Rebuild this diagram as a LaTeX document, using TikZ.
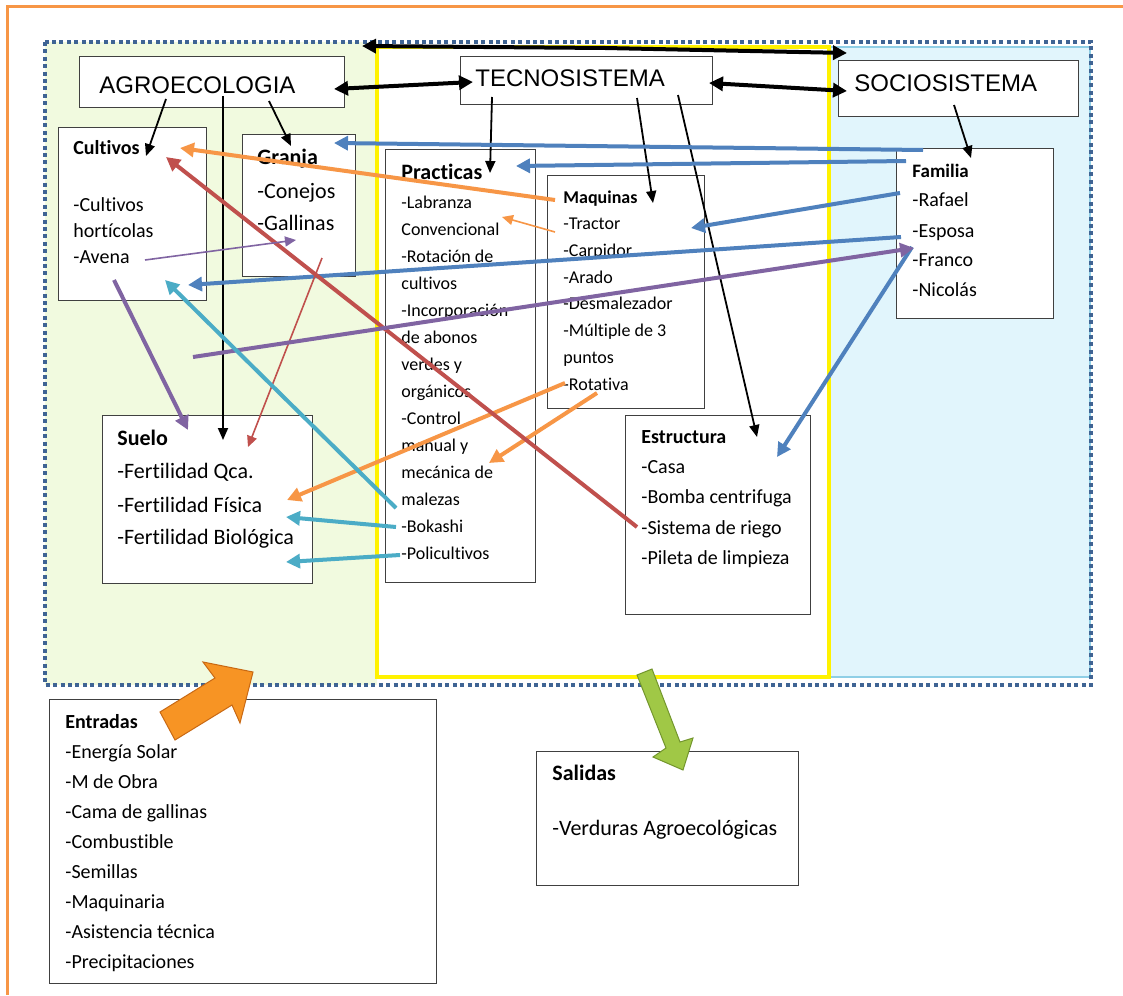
\documentclass[tikz,border=0pt]{standalone}
\usepackage{fontspec}
\setmainfont[Ligatures=NoCommon]{Carlito}
\newfontfamily\arialf{Liberation Sans}
\usetikzlibrary{arrows.meta}

\definecolor{ofBlue}{HTML}{4F81BD}
\definecolor{ofOrange}{HTML}{F79646}
\definecolor{ofRed}{HTML}{C0504D}
\definecolor{ofPurple}{HTML}{8064A2}
\definecolor{ofCyan}{HTML}{4BACC6}
\definecolor{agroGreen}{HTML}{F1FADF}
\definecolor{socioBlue}{HTML}{E1F5FC}
\definecolor{socioLine}{HTML}{8FCFE6}
\definecolor{frameBlue}{HTML}{3F6494}

\tikzset{
  box/.style={draw=black!75, line width=0.6pt, fill=white, anchor=north west, inner sep=0},
  txt/.style={anchor=west, inner sep=0, text depth=0pt},
  t9/.style={txt, font=\fontsize{9}{11}\selectfont, text height=6.1pt},
  t10/.style={txt, font=\fontsize{10}{12}\selectfont, text height=6.8pt},
  t11/.style={txt, font=\fontsize{11}{13}\selectfont, text height=7.5pt},
  b9/.style={t9, font=\fontsize{9}{11}\selectfont\bfseries},
  b10/.style={t10, font=\fontsize{10}{12}\selectfont\bfseries},
  b11/.style={t11, font=\fontsize{11}{13}\selectfont\bfseries},
  sys/.style={txt, font=\fontsize{12}{14}\selectfont\arialf, text height=8.6pt},
  thin/.style={line width=0.9pt, -{Triangle[length=6pt,width=5pt]}},
  dbl/.style={line width=2pt, {Triangle[length=7pt,width=7pt]}-{Triangle[length=7pt,width=7pt]}},
  col/.style={line width=2pt, draw=#1, -{Triangle[length=7pt,width=7pt]}},
  fine/.style={line width=0.8pt, draw=#1, -{Triangle[length=5.5pt,width=5pt]}}
}

\begin{document}
\begin{tikzpicture}[x=0.5pt, y=-0.5pt]
\useasboundingbox (0,0) rectangle (1123,995);

% zonas
\fill[agroGreen] (45,42) rectangle (377,685);
\fill[socioBlue] (829,47) rectangle (1090,677);
\draw[socioLine, line width=0.8pt] (829,47) rectangle (1090,677);
\draw[yellow, line width=2pt, fill=white] (377,47) rectangle (829,677);
\draw[frameBlue, line width=2pt, dash pattern=on 2pt off 1.7pt] (45,42) rectangle (1091,685);
\draw[ofOrange, line width=1.5pt] (1123,7) -- (7,7) -- (7,995);

% cajas
\node[box, minimum width=132.5pt, minimum height=25.5pt] (agro) at (79,56) {};
\node[box, minimum width=126pt, minimum height=24pt] (tecno) at (460,56) {};
\node[box, minimum width=120pt, minimum height=28pt] (socio) at (838,60) {};
\node[box, minimum width=74pt, minimum height=86.5pt] (cultivos) at (58,127) {};
\node[box, minimum width=56.5pt, minimum height=71pt] (granja) at (242,134) {};
\node[box, minimum width=75pt, minimum height=216.5pt] (practicas) at (385,149) {};
\node[box, minimum width=78.5pt, minimum height=116.5pt] (maquinas) at (547,175) {};
\node[box, minimum width=92.5pt, minimum height=99.5pt] (estructura) at (625,415) {};
\node[box, minimum width=78.5pt, minimum height=85pt] (familia) at (896,148) {};
\node[box, minimum width=105pt, minimum height=84pt] (suelo) at (102,415) {};
\node[box, minimum width=193.5pt, minimum height=142pt] (entradas) at (49,699) {};
\node[box, minimum width=131pt, minimum height=67pt] (salidas) at (536,751) {};

% titulos
\node[sys] (agroT) at (99,85) {AGROECOLOGIA};
\node[sys] (tecnoT) at (475,78) {TECNOSISTEMA};
\node[sys] (socioT) at (854,83) {SOCIOSISTEMA};

% cultivos
\node[b10] (cultT) at (73,148) {Cultivos};
\node[t10] (cult1) at (73,205) {-Cultivos};
\node[t10] (cult2) at (73,231) {hortícolas};
\node[t10] (avena) at (73,257) {-Avena};

% granja
\node[b11] (granjaT) at (257,157) {Granja};
\node[t11] (conejos) at (257,191) {-Conejos};
\node[t11] (gallinas) at (257,223) {-Gallinas};

% practicas
\node[b11] (pracT) at (401,172) {Practicas};
\node[t9] (prac1) at (401,202) {-Labranza};
\node[t9] (prac2) at (401,229) {Convencional};
\node[t9] (prac3) at (401,256) {-Rotación de};
\node[t9] (prac4) at (401,283) {cultivos};
\node[t9] (prac5) at (401,310) {-Incorporación};
\node[t9] (prac6) at (401,337) {de abonos};
\node[t9] (prac7) at (401,364) {verdes y};
\node[t9] (prac8) at (401,391) {orgánicos};
\node[t9] (prac9) at (401,418) {-Control};
\node[t9] (prac10) at (401,445) {manual y};
\node[t9] (prac11) at (401,472) {mecánica de};
\node[t9] (prac12) at (401,499) {malezas};
\node[t9] (bokashi) at (401,526) {-Bokashi};
\node[t9] (policult) at (401,553) {-Policultivos};

% maquinas
\node[b9] (maqT) at (563,197) {Maquinas};
\node[t9] (maq1) at (563,223) {-Tractor};
\node[t9] (maq2) at (563,250) {-Carpidor};
\node[t9] (maq3) at (563,277) {-Arado};
\node[t9] (maq4) at (563,303) {-Desmalezador};
\node[t9] (maq5) at (563,330) {-Múltiple de 3};
\node[t9] (maq6) at (563,357) {puntos};
\node[t9] (rotativa) at (563,384) {-Rotativa};

% estructura
\node[b10] (estT) at (641,437) {Estructura};
\node[t10] (est1) at (641,467) {-Casa};
\node[t10] (est2) at (641,497) {-Bomba centrifuga};
\node[t10] (riego) at (641,528) {-Sistema de riego};
\node[t10] (est4) at (641,558) {-Pileta de limpieza};

% familia
\node[t10, font=\fontsize{9.5}{11}\selectfont\bfseries] (famT) at (912,171) {Familia};
\node[t10] (rafael) at (912,200) {-Rafael};
\node[t10] (esposa) at (912,231) {-Esposa};
\node[t10] (franco) at (912,260) {-Franco};
\node[t10] (nicolas) at (912,290) {-Nicolás};

% suelo
\node[b11] (sueloT) at (117,438) {Suelo};
\node[t11] (suelo1) at (117,471) {-Fertilidad Qca.};
\node[t11] (suelo2) at (117,505) {-Fertilidad Física};
\node[t11] (suelo3) at (117,537) {-Fertilidad Biológica};

% entradas
\node[b10] (entT) at (65,722) {Entradas};
\node[t10] (ent1) at (65,752) {-Energía Solar};
\node[t10] (ent2) at (65,782) {-M de Obra};
\node[t10] (ent3) at (65,812) {-Cama de gallinas};
\node[t10] (ent4) at (65,842) {-Combustible};
\node[t10] (ent5) at (65,872) {-Semillas};
\node[t10] (ent6) at (65,902) {-Maquinaria};
\node[t10] (ent7) at (65,932) {-Asistencia técnica};
\node[t10] (ent8) at (65,962) {-Precipitaciones};

% salidas
\node[b11] (salT) at (552,773) {Salidas};
\node[t11] (sal1) at (552,828) {-Verduras Agroecológicas};

% puntas de flechas
\coordinate (topM) at (605,48);   \coordinate (topL) at (362,46);  \coordinate (topR) at (847,53);
\coordinate (agroR) at (334,89);  \coordinate (tecL) at (473,82);
\coordinate (tecR) at (709,83);   \coordinate (socL) at (847,91);
\coordinate (agroA) at (166,99);  \coordinate (cultA) at (146,156);
\coordinate (agroB) at (269,101); \coordinate (granjaA) at (291,146);
\coordinate (agroC) at (223,96);  \coordinate (sueloA) at (223,440);
\coordinate (tecA) at (492,97);   \coordinate (pracA) at (490,173);
\coordinate (tecB) at (637,98);   \coordinate (maqA) at (653,203);
\coordinate (tecC) at (678,95);   \coordinate (estA) at (757,437);
\coordinate (socA) at (954,105);  \coordinate (famA) at (971,158);
\coordinate (famB) at (923,150);  \coordinate (granjaB) at (334,143);
\coordinate (famC) at (906,161);  \coordinate (pracB) at (516,166);
\coordinate (rafaelA) at (900,193); \coordinate (maqB) at (691,228);
\coordinate (esposaA) at (901,237); \coordinate (cultB) at (188,285);
\coordinate (francoA) at (912,247); \coordinate (estB) at (777,457);
\coordinate (maqC) at (555,200);  \coordinate (cultC) at (180,148);
\coordinate (rotA) at (565,383);  \coordinate (sueloB) at (287,500);
\coordinate (maqD) at (597,393);  \coordinate (pracC) at (489,463);
\coordinate (maqE) at (555,232);  \coordinate (pracD) at (502,217);
\coordinate (riegoA) at (637,527); \coordinate (cultD) at (166,157);
\coordinate (granjaC) at (322,258); \coordinate (sueloC) at (248,447);
\coordinate (avenaA) at (145,260); \coordinate (granjaD) at (296,240);
\coordinate (cultE) at (114,280); \coordinate (sueloD) at (188,430);
\coordinate (agroD) at (193,357); \coordinate (francoB) at (914,248);
\coordinate (bokA) at (396,508);  \coordinate (cultF) at (165,280);
\coordinate (bokB) at (396,527);  \coordinate (sueloE) at (286,517);
\coordinate (poliA) at (400,555); \coordinate (sueloF) at (286,562);

% flechas negras
\draw[line width=2pt, -{Triangle[length=7pt,width=7pt]}] (topM) -- (topL);
\draw[line width=2pt, -{Triangle[length=7pt,width=7pt]}] (topM) -- (topR);
\draw[dbl] (agroR) -- (tecL);
\draw[dbl] (tecR) -- (socL);
\draw[thin] (agroA) -- (cultA);
\draw[thin] (agroB) -- (granjaA);
\draw[thin] (agroC) -- (sueloA);
\draw[thin] (tecA) -- (pracA);
\draw[thin] (tecB) -- (maqA);
\draw[thin] (tecC) -- (estA);
\draw[thin] (socA) -- (famA);

% flechas de colores
\draw[col=ofBlue] (famB) -- (granjaB);
\draw[col=ofBlue] (famC) -- (pracB);
\draw[col=ofBlue] (rafaelA) -- (maqB);
\draw[col=ofBlue] (esposaA) -- (cultB);
\draw[col=ofBlue] (francoA) -- (estB);
\draw[col=ofOrange] (maqC) -- (cultC);
\draw[col=ofOrange] (rotA) -- (sueloB);
\draw[col=ofOrange] (maqD) -- (pracC);
\draw[fine=ofOrange] (maqE) -- (pracD);
\draw[col=ofRed] (riegoA) -- (cultD);
\draw[fine=ofRed] (granjaC) -- (sueloC);
\draw[fine=ofPurple] (avenaA) -- (granjaD);
\draw[col=ofPurple] (cultE) -- (sueloD);
\draw[col=ofPurple] (agroD) -- (francoB);
\draw[col=ofCyan] (bokA) -- (cultF);
\draw[col=ofCyan] (bokB) -- (sueloE);
\draw[col=ofCyan] (poliA) -- (sueloF);

% entrada y salida
\filldraw[fill={rgb,255:red,247;green,148;blue,36}, draw={rgb,255:red,200;green,105;blue,20}, line width=0.5pt]
  (160,712) -- (215,678) -- (203,662) -- (253,672) -- (240,723) -- (232,705) -- (175,740) -- cycle;
\filldraw[fill={rgb,255:red,160;green,200;blue,70}, draw={rgb,255:red,115;green,150;blue,45}, line width=0.5pt]
  (637,675) -- (652,669) -- (680,742) -- (693,738) -- (683,770) -- (653,757) -- (666,748) -- cycle;
\end{tikzpicture}
\end{document}
